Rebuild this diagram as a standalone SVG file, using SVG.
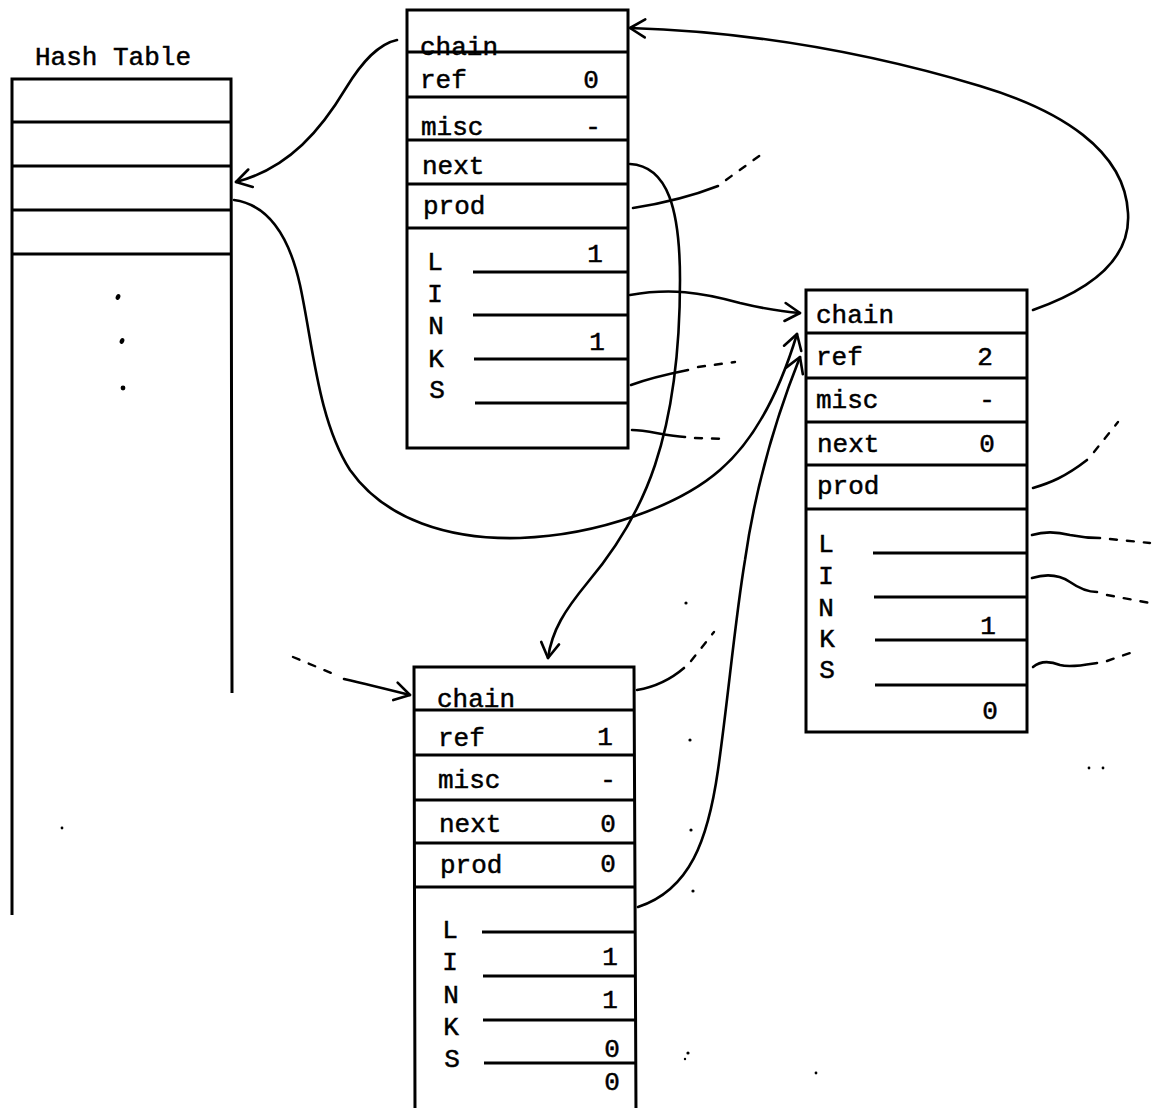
<svg xmlns="http://www.w3.org/2000/svg" width="1156" height="1108" viewBox="0 0 1156 1108">
<style>
.t{font-family:"Liberation Mono","Courier New",monospace;font-size:26px;fill:#000;stroke:#000;stroke-width:0.5}
.c{text-anchor:middle}
.box{fill:none;stroke:#000;stroke-width:3}
.ln{stroke:#000;stroke-width:3;fill:none}
.cn{fill:none;stroke:#000;stroke-width:2.6;stroke-linecap:round}
.dash{fill:none;stroke:#000;stroke-width:2.4;stroke-dasharray:7 10;stroke-linecap:round}
.speck{fill:#000}
</style>
<defs>
<marker id="arr" viewBox="-18 -12 22 24" refX="0" refY="0" markerWidth="22" markerHeight="24" markerUnits="userSpaceOnUse" orient="auto">
<path d="M-15,-9 L0,0 L-15,9" fill="none" stroke="#000" stroke-width="2.6" stroke-linecap="round" stroke-linejoin="round"/>
</marker>
</defs>
<rect width="1156" height="1108" fill="#fff"/>

<g id="hash-table">
<text class="t" x="35" y="65">Hash Table</text>
<path class="ln" d="M12,915 L12,79 L231,79 L232,693"/>
<path class="ln" d="M12,122 L231,122 M12,166 L231,166 M12,210 L231,210 M12,254 L232,254"/>
<ellipse class="speck" cx="118" cy="297" rx="2.2" ry="3" transform="rotate(25 118 297)"/>
<ellipse class="speck" cx="122" cy="341" rx="2.2" ry="3" transform="rotate(25 122 341)"/>
<circle class="speck" cx="123" cy="388" r="2.4"/>
</g>

<g id="node-top">
<text class="t" x="420" y="55">chain</text>
<text class="t" x="420" y="88">ref</text>
<text class="t c" x="591" y="88">0</text>
<text class="t" x="421" y="135">misc</text>
<text class="t c" x="593" y="135">-</text>
<text class="t" x="422" y="174">next</text>
<text class="t" x="423" y="214">prod</text>
<text class="t c" x="435" y="270">L</text>
<text class="t c" x="435" y="302">I</text>
<text class="t c" x="436" y="334">N</text>
<text class="t c" x="436" y="367">K</text>
<text class="t c" x="437" y="398">S</text>
<text class="t c" x="595" y="262">1</text>
<text class="t c" x="597" y="350">1</text>
<rect class="box" x="407" y="10" width="221" height="438"/>
<path class="ln" d="M407,52 L628,52 M407,97 L628,97 M407,140 L628,140 M407,184 L628,184 M407,228 L628,228"/>
<path class="ln" d="M473,272 L628,272 M473,315 L628,315 M474,359 L628,359 M475,403 L628,403"/>
</g>

<g id="node-right">
<text class="t" x="816" y="323">chain</text>
<text class="t" x="816" y="365">ref</text>
<text class="t c" x="985" y="365">2</text>
<text class="t" x="816" y="408">misc</text>
<text class="t c" x="987" y="408">-</text>
<text class="t" x="817" y="452">next</text>
<text class="t c" x="987" y="452">0</text>
<text class="t" x="817" y="494">prod</text>
<text class="t c" x="826" y="552">L</text>
<text class="t c" x="826" y="584">I</text>
<text class="t c" x="826" y="616">N</text>
<text class="t c" x="827" y="647">K</text>
<text class="t c" x="827" y="678">S</text>
<text class="t c" x="988" y="634">1</text>
<text class="t c" x="990" y="719">0</text>
<rect class="box" x="806" y="290" width="221" height="442"/>
<path class="ln" d="M806,333 L1027,333 M806,378 L1027,378 M806,422 L1027,422 M806,465 L1027,465 M806,509 L1027,509"/>
<path class="ln" d="M873,553 L1027,553 M874,597 L1027,597 M875,640 L1027,640 M875,685 L1027,685"/>
</g>

<g id="node-bottom">
<text class="t" x="437" y="707">chain</text>
<text class="t" x="438" y="746">ref</text>
<text class="t c" x="605" y="745">1</text>
<text class="t" x="438" y="788">misc</text>
<text class="t c" x="608" y="788">-</text>
<text class="t" x="439" y="832">next</text>
<text class="t c" x="608" y="832">0</text>
<text class="t" x="440" y="873">prod</text>
<text class="t c" x="608" y="872">0</text>
<text class="t c" x="450" y="938">L</text>
<text class="t c" x="450" y="970">I</text>
<text class="t c" x="451" y="1003">N</text>
<text class="t c" x="451" y="1035">K</text>
<text class="t c" x="452" y="1067">S</text>
<text class="t c" x="610" y="965">1</text>
<text class="t c" x="610" y="1008">1</text>
<text class="t c" x="612" y="1057">0</text>
<text class="t c" x="612" y="1090">0</text>
<path class="ln" d="M415,1112 L414,667 L634,667 L636,1112"/>
<path class="ln" d="M414,710 L634,710 M414,755 L634,755 M414,800 L635,800 M415,843 L635,843 M415,887 L635,887"/>
<path class="ln" d="M482,932 L635,932 M483,976 L635,976 M483,1020 L636,1020 M484,1063 L636,1063"/>
</g>

<g id="connectors">
<path class="cn" marker-end="url(#arr)" d="M397,40 C378,44 362,62 346,88 C322,128 290,168 236,182"/>
<path class="cn" marker-end="url(#arr)" d="M234,200 C270,205 290,240 300,285 C313,345 318,420 350,470 C385,520 450,540 520,538 C600,535 680,505 720,470 C755,440 780,390 797,334"/>
<path class="cn" marker-end="url(#arr)" d="M630,164 C668,166 680,210 680,280 C680,360 670,420 655,465 C640,510 615,550 588,582 C565,610 552,630 548,658"/>
<path class="cn" d="M633,208 C665,203 695,195 718,186"/>
<path class="dash" d="M726,180 L766,151"/>
<path class="cn" marker-end="url(#arr)" d="M630,295 C670,288 700,292 740,303 C765,309 785,312 800,313"/>
<path class="cn" d="M631,385 C650,378 668,374 688,370"/>
<path class="dash" d="M698,367 L735,362"/>
<path class="cn" d="M632,430 C648,430 665,436 685,437"/>
<path class="dash" d="M695,438 L728,439"/>
<path class="cn" marker-end="url(#arr)" d="M1033,310 C1090,290 1131,260 1128,213 C1125,150 1060,110 980,86 C880,56 760,32 630,28"/>
<path class="cn" marker-end="url(#arr)" d="M638,907 C690,890 708,840 718,770 C728,700 735,620 745,560 C755,490 775,420 800,357"/>
<path class="cn" d="M637,690 C655,687 670,680 684,668"/>
<path class="dash" d="M691,661 L714,632"/>
<path class="dash" d="M293,657 L336,675"/>
<path class="cn" marker-end="url(#arr)" d="M344,679 C370,685 390,690 410,695"/>
<path class="cn" d="M1033,488 C1050,483 1065,477 1087,460"/>
<path class="dash" d="M1094,452 L1118,422"/>
<path class="cn" d="M1032,535 C1045,531 1058,532 1070,535 C1080,537 1090,538 1100,538"/>
<path class="dash" d="M1110,539 L1150,543"/>
<path class="cn" d="M1032,578 C1045,574 1058,574 1070,582 C1080,589 1088,592 1097,592"/>
<path class="dash" d="M1107,595 L1150,603"/>
<path class="cn" d="M1033,667 C1040,661 1050,661 1060,665 C1070,668 1085,665 1097,663"/>
<path class="dash" d="M1107,661 L1130,653"/>
</g>

<g id="specks">
<circle class="speck" cx="686" cy="603" r="1.6"/>
<circle class="speck" cx="690" cy="740" r="1.6"/>
<circle class="speck" cx="691" cy="830" r="1.6"/>
<circle class="speck" cx="693" cy="891" r="1.6"/>
<circle class="speck" cx="688" cy="1053" r="1.6"/>
<circle class="speck" cx="685" cy="1059" r="1.2"/>
<circle class="speck" cx="816" cy="1073" r="1.4"/>
<circle class="speck" cx="1089" cy="768" r="1.4"/>
<circle class="speck" cx="1103" cy="768" r="1.4"/>
<circle class="speck" cx="62" cy="828" r="1.4"/>
</g>
</svg>
